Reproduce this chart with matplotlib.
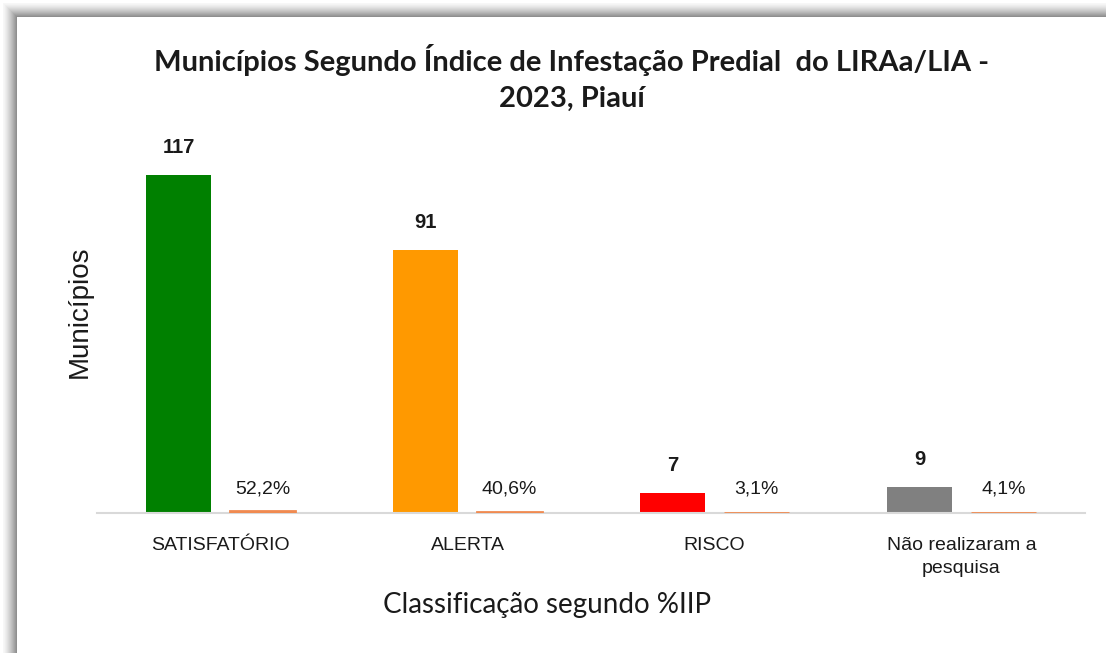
import numpy as np
import matplotlib
matplotlib.use('Agg')
import matplotlib.pyplot as plt
import matplotlib.patches as mpatches

plt.rcParams['font.family'] = ['Liberation Sans', 'DejaVu Sans']

# dados
categorias = ['SATISFATÓRIO', 'ALERTA', 'RISCO', 'Não realizaram a\npesquisa']
municipios = [117, 91, 7, 9]
percentual = [52.2, 40.6, 3.1, 4.1]
cores = ['#008000', '#FF9900', '#FF0000', '#808080']
cor_pct = '#F08A50'

W, H = 1106, 653
fig = plt.figure(figsize=(W / 100, H / 100), dpi=100)
fig.patch.set_facecolor('white')

# moldura com sombra (topo e esquerda)
bg = fig.add_axes([0, 0, 1, 1], zorder=-5)
bg.set_xlim(0, W)
bg.set_ylim(H, 0)
bg.axis('off')
for i in range(3, 18):
    t = (i - 3) / 14
    g = 0.97 - 0.45 * t ** 1.3
    bg.add_patch(mpatches.Rectangle((i, i), W, H, facecolor=(g, g, g), edgecolor='none'))
bg.add_patch(mpatches.Rectangle((17, 17), W, H, facecolor='white', edgecolor='none'))

# eixo principal
ax = fig.add_axes([97 / W, (H - 513) / H, (1085 - 97) / W, 404.4 / H])
ax.set_facecolor('none')
x = np.arange(len(categorias))
larg = 0.263
desl = 0.17

barras = ax.bar(x - desl, municipios, larg, color=cores, edgecolor='none')
barras_pct = ax.bar(x + desl, np.array(percentual) / 100, larg, color=cor_pct,
                    edgecolor=cor_pct, linewidth=2, zorder=3)

for b, v in zip(barras, municipios):
    ax.annotate(str(v), (b.get_x() + b.get_width() / 2, v), xytext=(0, 13),
                textcoords='offset points', ha='center', va='bottom',
                fontsize=14.5, fontweight='bold', color='#1a1a1a')
for b, v in zip(barras_pct, percentual):
    ax.annotate(f'{v:.1f}%'.replace('.', ','), (b.get_x() + b.get_width() / 2, 0),
                xytext=(0, 11), textcoords='offset points', ha='center', va='bottom',
                fontsize=14, color='#1a1a1a')

ax.set_xlim(-0.5, len(categorias) - 0.5)
ax.set_ylim(0, 140)
ax.set_yticks([])
ax.set_xticks(x)
ax.set_xticklabels(categorias, fontsize=14, color='#1a1a1a', linespacing=1.5)
ax.tick_params(axis='x', length=0, pad=17)
for s in ['top', 'right', 'left']:
    ax.spines[s].set_visible(False)
ax.spines['bottom'].set_color('#D9D9D9')
ax.spines['bottom'].set_linewidth(1.5)

fig.text(80 / W, 1 - 311.5 / H, 'Municípios', rotation=90, ha='center', va='center',
         fontsize=20, color='#1a1a1a')
fig.text(547.5 / W, 1 - 605 / H, 'Classificação segundo %IIP', ha='center', va='center',
         fontsize=20, color='#1a1a1a', family=['Lato', 'DejaVu Sans'])
fig.text(572 / W, 1 - 78 / H,
         'Municípios Segundo Índice de Infestação Predial  do LIRAa/LIA -\n2023, Piauí',
         ha='center', va='center', fontsize=21, fontweight='bold', color='#1a1a1a',
         linespacing=1.5, family=['Lato', 'DejaVu Sans'])

fig.savefig('out.png', dpi=100, facecolor='white')
